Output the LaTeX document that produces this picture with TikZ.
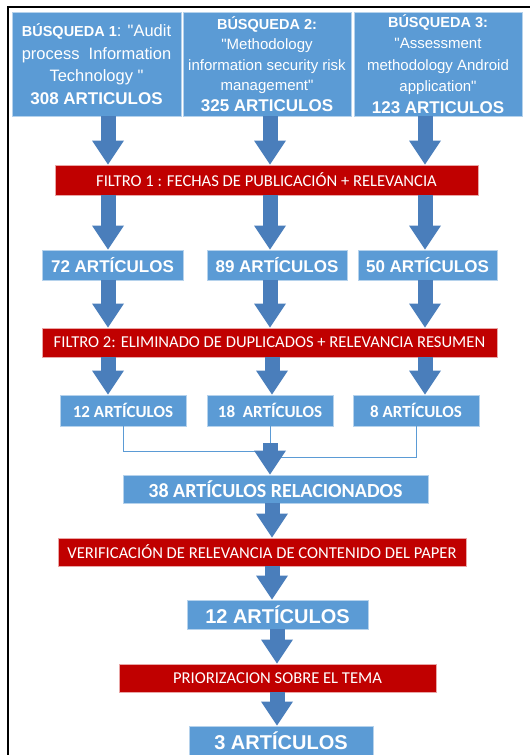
\documentclass[tikz,border=0pt]{standalone}
\usepackage{fontspec}
\setmainfont{Liberation Sans}[Ligatures=TeXOff]
\newfontfamily\calibri{Carlito}
\usetikzlibrary{arrows.meta, positioning, calc}

\definecolor{boxblue}{RGB}{91,155,213}
\definecolor{arrowblue}{RGB}{74,126,187}
\definecolor{filtred}{RGB}{192,0,0}

\begin{document}
\begin{tikzpicture}[
    x=1pt, y=-1pt,
    search/.style={rectangle, draw=boxblue!45!white, line width=0.8pt, fill=boxblue, text=white, align=center, minimum height=104pt, inner sep=0pt},
    cntbox/.style={rectangle, draw=boxblue!45!white, line width=0.8pt, fill=boxblue, text=white, inner sep=0pt},
    filtbox/.style={rectangle, draw=filtred!35!white, line width=0.8pt, fill=filtred, text=white, inner sep=0pt, minimum height=29pt, font=\calibri\fontsize{16.6}{19}\selectfont},
    bigarrow/.style={draw=arrowblue, line width=15pt, -{Triangle[width=32pt, length=24pt, line width=0pt]}},
    joinline/.style={draw=boxblue, line width=1pt}
]

    \useasboundingbox (0,0) rectangle (530,755);

    % Frame
    \draw[line width=2.5pt] (8,755) -- (8,7) -- (530,7);

    % --- Searches ---
    \node[search, minimum width=169pt, font=\fontsize{16.5}{22.5}\selectfont] (srch1) at (96.5,64)
        {{\bfseries\fontsize{14.5}{17}\selectfont BÚSQUEDA 1}: "Audit\\process~~Information\\Technology "\\{\bfseries\fontsize{17}{20}\selectfont 308 ARTICULOS}};
    \node[search, minimum width=168pt, font=\fontsize{15}{20.5}\selectfont] (srch2) at (267,64)
        {{\bfseries\fontsize{14.5}{17}\selectfont BÚSQUEDA 2:}\\"Methodology\\information security risk\\management"\\{\bfseries\fontsize{17}{20}\selectfont 325 ARTICULOS}};
    \node[search, minimum width=168pt, font=\fontsize{15}{21.5}\selectfont] (srch3) at (438,64)
        {{\bfseries\fontsize{14.5}{17}\selectfont BÚSQUEDA 3:}\\"Assessment\\methodology Android\\application"\\{\bfseries\fontsize{17}{20}\selectfont 123 ARTICULOS}};

    % columns of the arrows
    \coordinate (c1) at (108,0);
    \coordinate (c2) at (270,0);
    \coordinate (c3) at (425,0);
    \coordinate (c4) at (272,0);
    \coordinate (c5) at (277,0);

    % --- Filters and counts ---
    \node[filtbox, minimum width=423pt, minimum height=30pt] (filt1) at (266.5,180) {FILTRO 1 : FECHAS DE PUBLICACIÓN + RELEVANCIA};

    \foreach \x/\w/\name/\num in {112.5/141/r2a/72, 277/140/r2b/89, 427.5/139/r2c/50} {
        \node[cntbox, minimum width=\w pt, minimum height=30pt, font=\bfseries\fontsize{17}{20}\selectfont] (\name) at (\x,265) {\num{} ARTÍCULOS};
    }

    \node[filtbox, minimum width=455pt] (filt2) at (269.5,342.5) {FILTRO 2: ELIMINADO DE DUPLICADOS + RELEVANCIA RESUMEN};

    \foreach \x/\name/\txt in {123/r3a/12 ARTÍCULOS, 270/r3b/18~~ARTÍCULOS, 416/r3c/8 ARTÍCULOS} {
        \node[cntbox, minimum width=126pt, minimum height=31pt, font=\calibri\bfseries\fontsize{17}{20}\selectfont] (\name) at (\x,410.5) {\txt};
    }

    \node[cntbox, minimum width=305pt, minimum height=28pt, font=\calibri\bfseries\fontsize{20}{23}\selectfont] (rel) at (275.5,489) {38 ARTÍCULOS RELACIONADOS};
    \node[filtbox, minimum width=408pt, minimum height=28pt] (verif) at (262,552) {VERIFICACIÓN DE RELEVANCIA DE CONTENIDO DEL PAPER};
    \node[cntbox, minimum width=181pt, minimum height=29pt, font=\bfseries\fontsize{20}{23}\selectfont] (sel12) at (277.5,614.5) {12 ARTÍCULOS};
    \node[filtbox, minimum width=317pt, minimum height=28pt] (prio) at (277.5,678) {PRIORIZACION SOBRE EL TEMA};
    \node[cntbox, minimum width=184pt, minimum height=30pt, font=\bfseries\fontsize{20}{23}\selectfont] (sel3) at (281,741) {3 ARTÍCULOS};

    % --- Joining lines ---
    \coordinate (mrg) at (270,443);
    \coordinate (jl) at (270,451);
    \coordinate (jr) at (270,457);
    \draw[joinline] (r3a.south) |- (jl);
    \draw[joinline] (r3c.south) |- (jr);
    \draw[joinline] (r3b.south) -- (mrg);

    % --- Arrows ---
    \foreach \a/\b/\c in {srch1/filt1/c1, srch2/filt1/c2, srch3/filt1/c3,
                          filt1/r2a/c1, filt1/r2b/c2, filt1/r2c/c3,
                          r2a/filt2/c1, r2b/filt2/c2, r2c/filt2/c3,
                          filt2/r3a/c1, filt2/r3b/c4, filt2/r3c/c3,
                          rel/verif/c4, verif/sel12/c4, sel12/prio/c5, prio/sel3/c5} {
        \draw[bigarrow] (\a.south -| \c) -- (\b.north -| \c);
    }
    \draw[bigarrow] (mrg) -- (rel.north -| mrg);

\end{tikzpicture}
\end{document}
